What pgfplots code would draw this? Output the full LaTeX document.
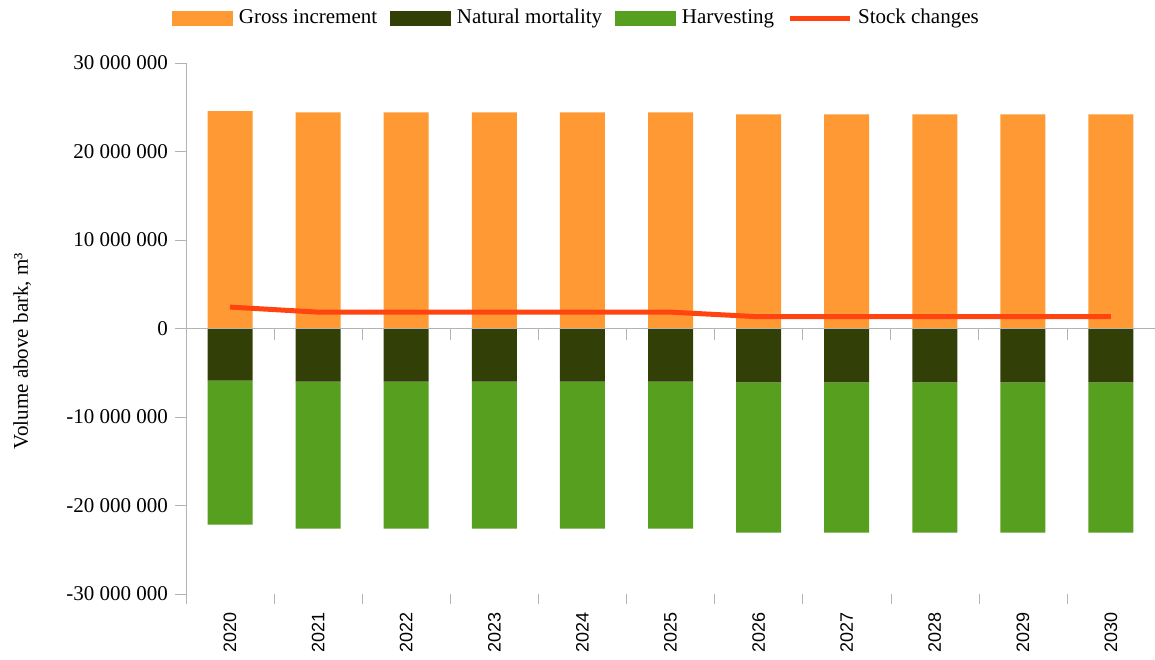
\documentclass[border=0pt]{standalone}
\usepackage{fontspec}
\setmainfont{Liberation Serif}
\setsansfont{Liberation Sans}
\usepackage{pgfplots}
\usepackage{pgfplotstable}
\pgfplotsset{compat=1.18}
\definecolor{cGross}{RGB}{255,153,51}
\definecolor{cMort}{RGB}{50,64,8}
\definecolor{cHarv}{RGB}{87,159,30}
\definecolor{cStock}{RGB}{255,68,17}
\definecolor{cAxis}{RGB}{179,179,179}

\pgfplotstableread{
x gross mort harv stock
0 24550000 -5900000 -16260000 2420000
1 24430000 -6000000 -16600000 1850000
2 24430000 -6000000 -16600000 1850000
3 24430000 -6000000 -16600000 1850000
4 24430000 -6000000 -16600000 1850000
5 24430000 -6000000 -16600000 1850000
6 24200000 -6100000 -16970000 1330000
7 24200000 -6100000 -16970000 1330000
8 24200000 -6100000 -16970000 1330000
9 24200000 -6100000 -16970000 1330000
10 24200000 -6100000 -16970000 1330000
}\datatable

\pgfplotsset{base/.style={
  width=484.5pt, height=265.5pt, scale only axis,
  xmin=-0.5, xmax=10.5, ymin=-30000000, ymax=30000000,
  bar width=22.5pt, clip=false, scaled y ticks=false,
}}

\begin{document}
\begin{tikzpicture}
\begin{axis}[base,
  axis y line*=left, axis x line*=bottom,
  x axis line style={draw=none},
  y axis line style={cAxis},
  tick align=outside,
  major tick length=5.5pt, minor tick length=5pt,
  ytick={-30000000,-20000000,-10000000,0,10000000,20000000,30000000},
  yticklabels={-30 000 000,-20 000 000,-10 000 000,0,10 000 000,20 000 000,30 000 000},
  ytick style={cAxis},
  xtick={0,1,2,3,4,5,6,7,8,9,10},
  xticklabels={2020,2021,2022,2023,2024,2025,2026,2027,2028,2029,2030},
  minor xtick={-0.5,0.5,1.5,2.5,3.5,4.5,5.5,6.5,7.5,8.5,9.5,10.5},
  major x tick style={draw=none},
  minor x tick style={cAxis},
  xticklabel style={rotate=90, anchor=east, font=\sffamily\fontsize{9}{11}\selectfont},
  yticklabel style={font=\fontsize{10.5}{12}\selectfont},
  ylabel={Volume above bark, m³},
  ylabel style={at={(axis description cs:-0.169,0.4576)}, anchor=center, font=\fontsize{10.5}{12}\selectfont},
  legend columns=4,
  legend style={at={(0.404,1.0847)}, anchor=center, draw=none, fill=none,
    font=\fontsize{10.5}{12}\selectfont,
    /tikz/every odd column/.append style={column sep=1pt},
    /tikz/every even column/.append style={column sep=4.5pt}},
]
\addlegendimage{legend image code/.code={\fill[cGross] (0pt,-3.5pt) rectangle (30pt,3.5pt);}}
\addlegendentry{Gross increment}
\addlegendimage{legend image code/.code={\fill[cMort] (0pt,-3.5pt) rectangle (30pt,3.5pt);}}
\addlegendentry{Natural mortality}
\addlegendimage{legend image code/.code={\fill[cHarv] (0pt,-3.5pt) rectangle (30pt,3.5pt);}}
\addlegendentry{Harvesting}
\addlegendimage{legend image code/.code={\draw[cStock, line width=2.5pt] (0pt,0pt) -- (30pt,0pt);}}
\addlegendentry{Stock changes}
\addplot[ybar, bar width=22.5pt, fill=cGross, draw=none, forget plot] table[x=x, y=gross]{\datatable};
\end{axis}
\begin{axis}[base, hide axis, ybar stacked]
\addplot[fill=cMort, draw=none] table[x=x, y=mort]{\datatable};
\addplot[fill=cHarv, draw=none] table[x=x, y=harv]{\datatable};
\end{axis}
\begin{axis}[base, hide axis]
\draw[cAxis] (axis cs:-0.5,0) -- (axis cs:10.5,0);
\pgfplotsinvokeforeach{-0.5,0.5,1.5,2.5,3.5,4.5,5.5,6.5,7.5,8.5,9.5,10.5}{
  \draw[cAxis] (axis cs:#1,0) -- ++(0pt,-5.5pt);
}
\addplot[cStock, line width=2.5pt] table[x=x, y=stock]{\datatable};
\end{axis}
\pgfresetboundingbox
\path[use as bounding box] (-93pt,-32.5pt) rectangle (484.5pt,297pt);
\end{tikzpicture}
\end{document}
